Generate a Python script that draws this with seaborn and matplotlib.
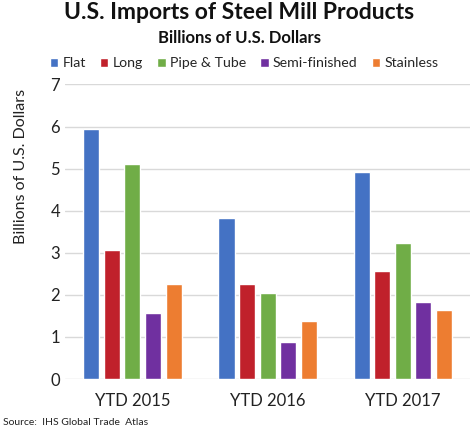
import pandas as pd
import matplotlib
matplotlib.use("Agg")
import matplotlib.pyplot as plt
import seaborn as sns

periods = ["YTD 2015", "YTD 2016", "YTD 2017"]
products = ["Flat", "Long", "Pipe & Tube", "Semi-finished", "Stainless"]
flat = [5.94, 3.82, 4.91]
long_ = [3.06, 2.25, 2.57]
pipe = [5.12, 2.04, 3.24]
semi = [1.58, 0.88, 1.82]
stainless = [2.25, 1.39, 1.64]
colors = ["#4472C4", "#C0212B", "#70AD47", "#7030A0", "#ED7D31"]

# long format table for seaborn
rows = []
for name, vals in zip(products, [flat, long_, pipe, semi, stainless]):
    for p, v in zip(periods, vals):
        rows.append({"Period": p, "Product": name, "Value": v})
df = pd.DataFrame(rows)

sns.set_style("white")
plt.rcParams["font.family"] = ["Lato", "DejaVu Sans"]

fig = plt.figure(figsize=(4.74, 4.30), dpi=100)
ax = fig.add_axes([0.137, 0.1186, 0.855, 0.685])

sns.barplot(data=df, x="Period", y="Value", hue="Product", hue_order=products,
            palette=colors, width=0.76, gap=0.22, saturation=1, ax=ax)

ax.set_xlim(-0.5, 2.5)
ax.set_ylim(0, 7)
ax.set_yticks(range(0, 8))
ax.yaxis.grid(True, color="#D9D9D9", linewidth=1)
ax.set_axisbelow(True)
for s in ax.spines.values():
    s.set_visible(False)
ax.tick_params(axis="both", length=0, labelsize=12, colors="#222222")
ax.tick_params(axis="x", pad=10)
ax.set_xlabel("")
ax.set_ylabel("Billions of U.S. Dollars", fontsize=11.5, color="#222222")
ax.yaxis.set_label_coords(-0.092, 0.72)

handles, labels = ax.get_legend_handles_labels()
ax.legend_.remove()
fig.legend(handles, labels, loc="center", bbox_to_anchor=(0.515, 0.853), ncol=5,
           frameon=False, fontsize=10.2, handlelength=0.6, handleheight=0.6,
           handletextpad=0.3, columnspacing=1.0, borderaxespad=0)

fig.text(0.505, 0.970, "U.S. Imports of Steel Mill Products", ha="center", va="center",
         fontsize=16.5, fontweight="bold", color="#111111")
fig.text(0.505, 0.911, "Billions of U.S. Dollars", ha="center", va="center",
         fontsize=12, fontweight="bold", color="#111111")
fig.text(0.006, 0.018, "Source:  IHS Global Trade  Atlas", ha="left", va="center",
         fontsize=7.5, color="#222222")

fig.savefig("out.png", dpi=100)
